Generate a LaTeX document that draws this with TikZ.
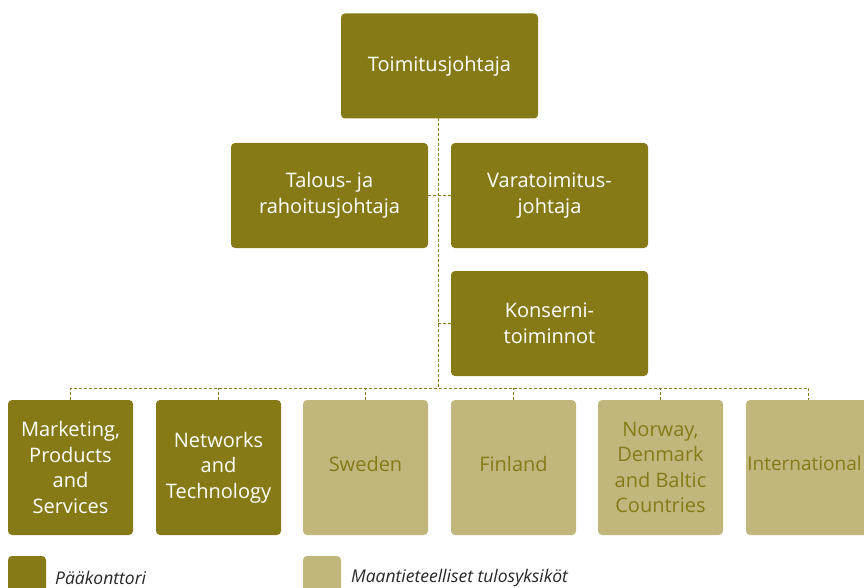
\documentclass[tikz,border=0pt]{standalone}
\usepackage{fontspec}
\setmainfont{Open Sans}
\definecolor{darkolive}{RGB}{134,122,23}
\definecolor{lightolive}{RGB}{193,183,125}
\begin{document}
\begin{tikzpicture}[x=1pt,y=-1pt,
  box/.style={rounded corners=4pt,inner sep=0pt,outer sep=0pt,align=center,
    font=\fontsize{20}{25.5}\selectfont},
  hq/.style={box,fill=darkolive,text=white},
  geo/.style={box,fill=lightolive,text=darkolive},
  wide/.style={minimum width=197pt,minimum height=105pt},
  unit/.style={minimum width=125pt,minimum height=135pt},
  link/.style={draw=darkolive,line width=1pt,dash pattern=on 3pt off 2pt},
  legtext/.style={font=\fontsize{17.5}{20}\selectfont\itshape,text=black!85,anchor=west,inner sep=0pt}]
\useasboundingbox (0,0) rectangle (864,588);
\clip (0,0) rectangle (864,588);
\node[hq,wide] (ceo) at (439.5,66) {Toimitusjohtaja};
\node[hq,wide] (cfo) at (329.5,195.5) {Talous- ja\\rahoitusjohtaja};
\node[hq,wide] (vice) at (549.5,195.5) {Varatoimitus-\\johtaja};
\node[hq,wide] (group) at (549.5,323.5) {Konserni-\\toiminnot};
\node[hq,unit] (mps) at (70.5,467.5) {Marketing,\\Products\\and\\Services};
\node[hq,unit] (nt) at (218.5,467.5) {Networks\\and\\Technology};
\node[geo,unit] (se) at (365.5,467.5) {\raisebox{8pt}{Sweden}};
\node[geo,unit] (fi) at (513.5,467.5) {\raisebox{8pt}{Finland}};
\node[geo,unit] (no) at (660.5,467.5) {Norway,\\Denmark\\and Baltic\\Countries};
\node[geo,unit] (int) at (808.5,467.5) {\fontsize{19}{25.5}\selectfont\raisebox{8pt}{International}\kern 8pt};
\coordinate (bus) at (438,388);
\draw[link] (ceo.south -| bus) -- (bus);
\draw[link] (cfo.east) -- (vice.west);
\draw[link] (group.west -| bus) -- (group.west);
\draw[link] (mps.north) -- (mps.north |- bus) -- (int.north |- bus) -- (int.north);
\foreach \n in {nt,se,fi,no}{\draw[link] (\n.north) -- (\n.north |- bus);}
\node[hq,minimum width=38pt,minimum height=50pt,anchor=north west] (leg1) at (8,556) {};
\node[legtext] (leg1t) at (55,578) {Pääkonttori};
\node[geo,minimum width=38pt,minimum height=50pt,anchor=north west] (leg2) at (303,556) {};
\node[legtext] (leg2t) at (351,578) {Maantieteelliset tulosyksiköt};
\end{tikzpicture}
\end{document}
